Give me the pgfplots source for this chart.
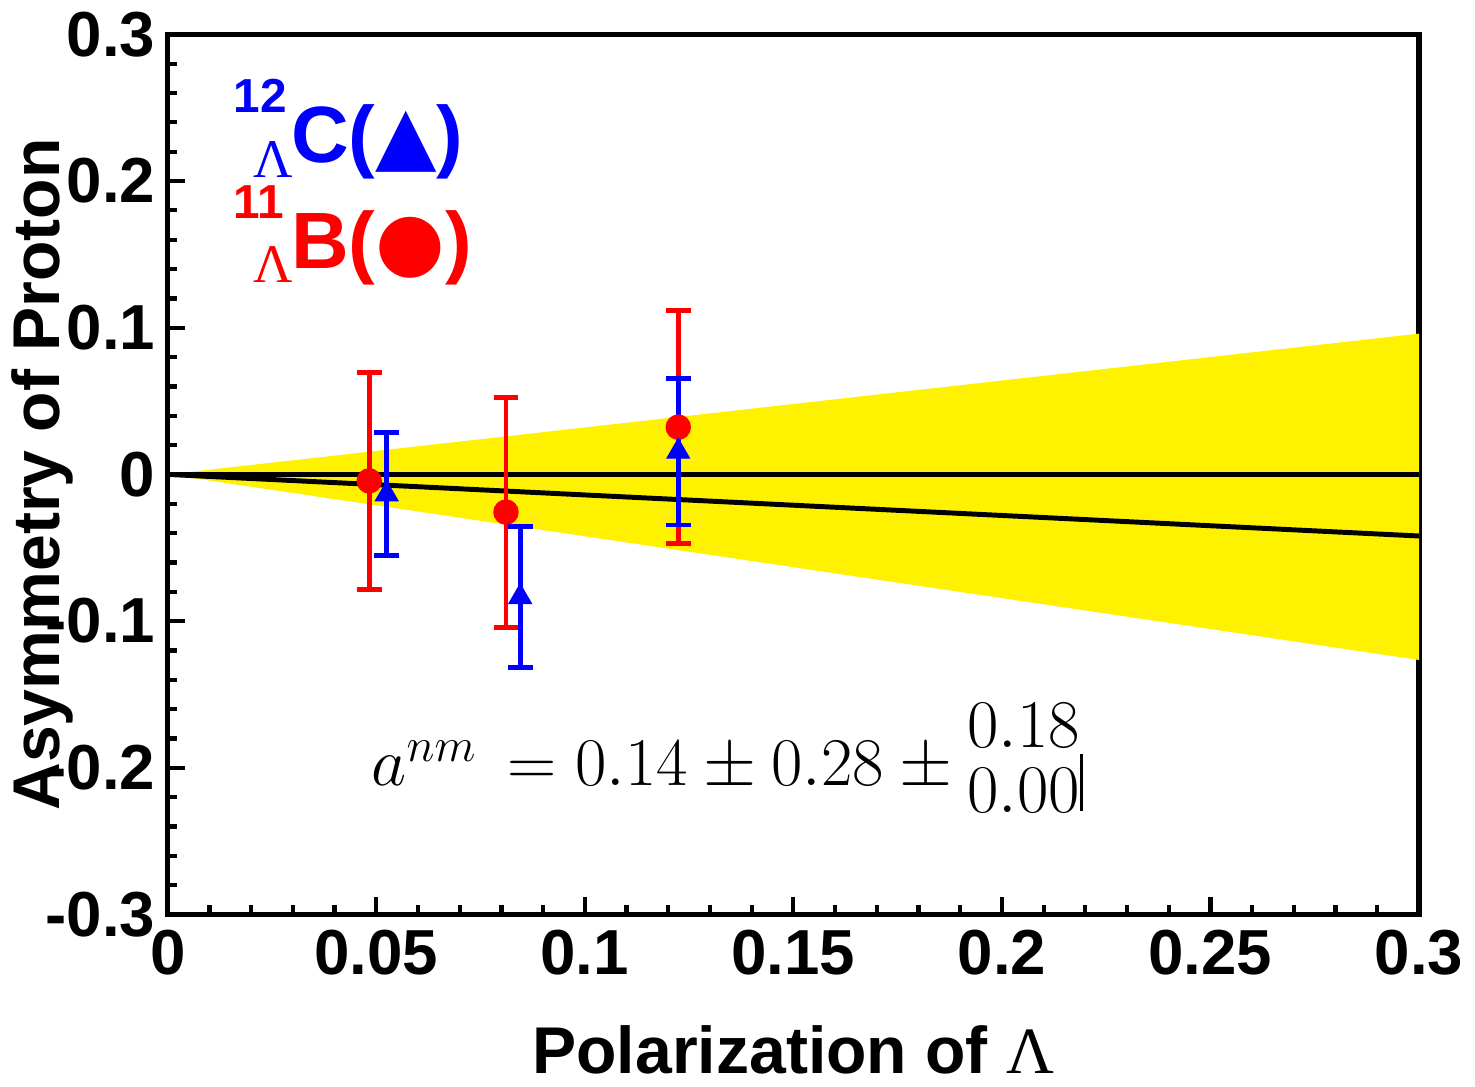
\RequirePackage{fix-cm}
\documentclass[border=0pt]{standalone}
\usepackage{amsmath}
\usepackage{fontspec}
\setmainfont{Liberation Sans}
\newfontfamily\serifgreek{Liberation Serif}
\newfontfamily\symfont{DejaVu Sans}
\usepackage{pgfplots}
\pgfplotsset{compat=1.18}

% Measured points: x, y, symmetric error
\pgfplotstableread{
x       y        e
0.0483  -0.0044  0.0740
0.0811  -0.0257  0.0784
0.1224   0.0322  0.0793
}\boronData
\pgfplotstableread{
x       y        e
0.0525  -0.0135  0.0420
0.0845  -0.0836  0.0480
0.1224   0.0155  0.0500
}\carbonData

\begin{document}
\begin{tikzpicture}
\begin{axis}[
  scale only axis,
  width=12.44cm, height=8.75cm,
  xmin=0, xmax=0.3, ymin=-0.3, ymax=0.3,
  xtick={0,0.05,0.1,0.15,0.2,0.25,0.3},
  xticklabels={0,0.05,0.1,0.15,0.2,0.25,0.3},
  ytick={-0.3,-0.2,-0.1,0,0.1,0.2,0.3},
  yticklabels={-0.3,-0.2,-0.1,0,0.1,0.2,0.3},
  minor x tick num=4, minor y tick num=4,
  tick align=inside, tick pos=left,
  major tick length=4.8pt, minor tick length=2.6pt,
  axis line style={line width=1.5pt},
  every tick/.style={black, line width=1.2pt},
  tick label style={font=\bfseries\fontsize{18}{20}\selectfont},
  xticklabel style={yshift=-1pt},
  label style={font=\bfseries\fontsize{18.7}{22}\selectfont},
  xlabel={Polarization of {\serifgreek\mdseries Λ}},
  ylabel={Asymmetry of Proton},
  xlabel style={at={(axis description cs:0.5,-0.154)}, anchor=center},
  ylabel style={at={(axis description cs:-0.100,0.5)}, anchor=center},
]
% allowed region
\addplot[fill=yellow, draw=none] coordinates {(0,0) (0.3,0.0960) (0.3,-0.1265)} -- cycle;
% reference lines
\addplot[black, line width=1.4pt] coordinates {(0,0) (0.3,0)};
\addplot[black, line width=1.4pt] coordinates {(0,0) (0.3,-0.042)};
% 11B data
\addplot[only marks, mark=*, color=red, mark size=3.4pt,
  error bars/.cd, y dir=both, y explicit,
  error bar style={line width=1.4pt, red},
  error mark options={rotate=90, mark size=3.5pt, line width=1.4pt, red}]
  table[x=x, y=y, y error=e] {\boronData};
% 12C data
\addplot[only marks, mark=triangle*, color=blue, mark size=3.6pt,
  error bars/.cd, y dir=both, y explicit,
  error bar style={line width=1.4pt, blue},
  error mark options={rotate=90, mark size=3.5pt, line width=1.4pt, blue}]
  table[x=x, y=y, y error=e] {\carbonData};

\node[anchor=base west, inner sep=0pt, text=blue, font=\bfseries\fontsize{22.6}{26}\selectfont]
  at (axis cs:0.0157,0.2123)
  {\rlap{\raisebox{14.2pt}{\fontsize{13.5}{15}\selectfont 12}}\rlap{\hspace{5.5pt}\raisebox{-4pt}{\serifgreek\mdseries\fontsize{15.4}{16}\selectfont Λ}}\hspace{16.2pt}C({\symfont ▲})};
\node[anchor=base west, inner sep=0pt, text=red, font=\bfseries\fontsize{22.6}{26}\selectfont]
  at (axis cs:0.0157,0.1403)
  {\rlap{\raisebox{14.2pt}{\fontsize{13.5}{15}\selectfont 11}}\rlap{\hspace{5.5pt}\raisebox{-4pt}{\serifgreek\mdseries\fontsize{15.4}{16}\selectfont Λ}}\hspace{16.2pt}B({\symfont ●})};
\node[anchor=base west, inner sep=0pt, font=\fontsize{19.3}{23}\selectfont]
  at (axis cs:0.0487,-0.2123)
  {$a^{nm}\,=0.14\pm0.28\pm\raisebox{1.5pt}{$\begin{array}{@{}l@{}}0.18\\[-4.6pt]0.00\end{array}$}$\rule[-7pt]{0.8pt}{16pt}};
\end{axis}
\end{tikzpicture}
\end{document}
